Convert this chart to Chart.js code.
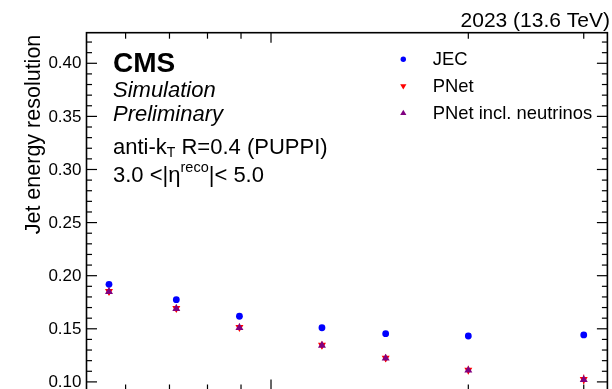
<!DOCTYPE html>
<html>
<head>
<meta charset="utf-8">
<script src="https://cdn.jsdelivr.net/npm/chart.js@4.4.1/dist/chart.umd.min.js"></script>
<style>
  html, body { margin: 0; padding: 0; background: #fff; overflow: hidden; }
  #wrap { width: 612px; height: 389px; overflow: hidden; }
  canvas { display: block; }
</style>
</head>
<body>
<div id="wrap"><canvas id="c" width="612" height="400"></canvas></div>
<script>
// Jet pT bins (GeV, log axis) and resolution per method
const ptValues = [56.6, 71.7, 89.5, 119.6, 149.6, 200, 300];
const jecRes = [0.1919, 0.1774, 0.1618, 0.1510, 0.1454, 0.1432, 0.1442];
const pnetRes = [0.1853, 0.1693, 0.1514, 0.1347, 0.1225, 0.1112, 0.1024];
const pnetNuRes = [0.1850, 0.1690, 0.1511, 0.1344, 0.1222, 0.1109, 0.1021];
const pnetErr = [0.0035, 0.0035, 0.0035, 0.0035, 0.0035, 0.004, 0.0045];

// Axis ranges and tick values
const xRange = [52.3, 326];
const yRange = [0.0919, 0.4288];
const xMajorTicks = [100];
const xMinorTicks = [60, 70, 80, 90, 200, 300];
const yMajorTicks = [0.10, 0.15, 0.20, 0.25, 0.30, 0.35, 0.40];
const yMinorStep = 0.01;

const seriesNames = ['JEC', 'PNet', 'PNet incl. neutrinos'];
const colors = { jec: '#0000ff', pnet: '#ff0000', nu: '#800080' };

const FONT = '"Liberation Sans", Arial, Helvetica, sans-serif';

function pts(xs, ys) { return xs.map((x, i) => ({ x: x, y: ys[i] })); }

// ROOT-like frame, inward ticks, labels and annotations
const framePlugin = {
  id: 'frame',
  beforeDatasetsDraw(chart) {
    const ctx = chart.ctx;
    const x = chart.scales.x, y = chart.scales.y;
    // error bars on PNet points
    ctx.save();
    ctx.strokeStyle = colors.pnet;
    ctx.lineWidth = 1;
    ptValues.forEach((p, i) => {
      const px = x.getPixelForValue(p);
      ctx.beginPath();
      ctx.moveTo(px, y.getPixelForValue(pnetRes[i] - pnetErr[i]));
      ctx.lineTo(px, y.getPixelForValue(pnetRes[i] + pnetErr[i]));
      ctx.stroke();
    });
    ctx.restore();
  },
  afterDraw(chart) {
    const ctx = chart.ctx;
    const a = chart.chartArea;
    const x = chart.scales.x, y = chart.scales.y;
    ctx.save();
    ctx.strokeStyle = '#000';
    ctx.lineWidth = 1.6;
    ctx.strokeRect(a.left, a.top, a.right - a.left, a.bottom - a.top);

    ctx.lineWidth = 1.2;
    const line = (x1, y1, x2, y2) => { ctx.beginPath(); ctx.moveTo(x1, y1); ctx.lineTo(x2, y2); ctx.stroke(); };
    // x ticks (top and bottom, pointing inward)
    xMajorTicks.forEach(v => {
      const px = x.getPixelForValue(v);
      line(px, a.top, px, a.top + 10);
      line(px, a.bottom, px, a.bottom - 11);
    });
    xMinorTicks.forEach(v => {
      const px = x.getPixelForValue(v);
      line(px, a.top, px, a.top + 6);
      line(px, a.bottom, px, a.bottom - 6);
    });
    // y ticks (left and right, pointing inward)
    for (let v = 0.10; v <= yRange[1] + 1e-9; v += yMinorStep) {
      const py = y.getPixelForValue(v);
      const major = yMajorTicks.some(t => Math.abs(t - v) < 1e-6);
      const len = major ? 10.5 : 5.5;
      line(a.left, py, a.left + len, py);
      line(a.right, py, a.right - len, py);
    }
    // y tick labels
    ctx.fillStyle = '#000';
    ctx.font = '17px ' + FONT;
    ctx.textAlign = 'right';
    ctx.textBaseline = 'middle';
    yMajorTicks.forEach(v => {
      ctx.fillText(v.toFixed(2), 81.5, y.getPixelForValue(v) + 0.5);
    });
    // y title
    ctx.save();
    ctx.translate(40, a.top);
    ctx.rotate(-Math.PI / 2);
    ctx.font = '21.5px ' + FONT;
    ctx.textAlign = 'right';
    ctx.textBaseline = 'alphabetic';
    ctx.fillText('Jet energy resolution', -2, 0);
    ctx.restore();

    // luminosity label
    ctx.font = '21px ' + FONT;
    ctx.textAlign = 'right';
    ctx.textBaseline = 'alphabetic';
    ctx.fillText('2023 (13.6 TeV)', 610, 26.7);

    // CMS labels
    ctx.textAlign = 'left';
    ctx.font = 'bold 28px ' + FONT;
    ctx.fillText('CMS', 113, 71.7);
    ctx.font = 'italic 22px ' + FONT;
    ctx.fillText('Simulation', 113, 97);
    ctx.fillText('Preliminary', 113, 120.5);

    // jet definition
    ctx.font = '22px ' + FONT;
    let cx = 113;
    const base1 = 154;
    ctx.fillText('anti-k', cx, base1); cx += ctx.measureText('anti-k').width;
    ctx.font = '14px ' + FONT;
    ctx.fillText('T', cx, base1 + 2.5); cx += ctx.measureText('T').width;
    ctx.font = '22px ' + FONT;
    ctx.fillText(' R=0.4 (PUPPI)', cx, base1);

    const base2 = 182;
    cx = 113;
    ctx.fillText('3.0 <|\u03B7', cx, base2); cx += ctx.measureText('3.0 <|\u03B7').width;
    ctx.font = '14.5px ' + FONT;
    ctx.fillText('reco', cx, base2 - 10.5); cx += ctx.measureText('reco').width;
    ctx.font = '22px ' + FONT;
    ctx.fillText('|< 5.0', cx, base2);

    // legend
    const rows = [59.3, 86, 113.3];
    const ds = chart.data.datasets;
    ctx.font = '18.4px ' + FONT;
    ctx.textBaseline = 'middle';
    ds.forEach((d, i) => {
      ctx.fillStyle = d.backgroundColor;
      Chart.helpers.drawPoint(ctx, {
        pointStyle: d.pointStyle, rotation: d.rotation || 0,
        radius: d.pointStyle === 'circle' ? 2.7 : 3.6
      }, 403.3, rows[i]);
      ctx.fillStyle = '#000';
      ctx.fillText(seriesNames[i], 432.7, rows[i] + 0.5);
    });
    ctx.restore();
  }
};

new Chart(document.getElementById('c'), {
  type: 'scatter',
  data: {
    datasets: [
      { label: seriesNames[0], data: pts(ptValues, jecRes), pointStyle: 'circle', order: 2,
        pointRadius: 3.4, backgroundColor: colors.jec, borderColor: colors.jec, borderWidth: 0 },
      { label: seriesNames[1], data: pts(ptValues, pnetRes), pointStyle: 'triangle', rotation: 180, order: 1,
        pointRadius: 4.6, backgroundColor: colors.pnet, borderColor: colors.pnet, borderWidth: 0 },
      { label: seriesNames[2], data: pts(ptValues, pnetNuRes), pointStyle: 'triangle', order: 0,
        pointRadius: 4.6, backgroundColor: colors.nu, borderColor: colors.nu, borderWidth: 0 }
    ]
  },
  options: {
    responsive: false,
    devicePixelRatio: 1,
    animation: false,
    layout: { padding: { left: 86.5, top: 32.7, right: 1.5, bottom: 9.5 } },
    plugins: { legend: { display: false }, tooltip: { enabled: false } },
    scales: {
      x: { type: 'logarithmic', min: xRange[0], max: xRange[1], display: false },
      y: { type: 'linear', min: yRange[0], max: yRange[1], display: false }
    }
  },
  plugins: [framePlugin]
});
</script>
</body>
</html>
